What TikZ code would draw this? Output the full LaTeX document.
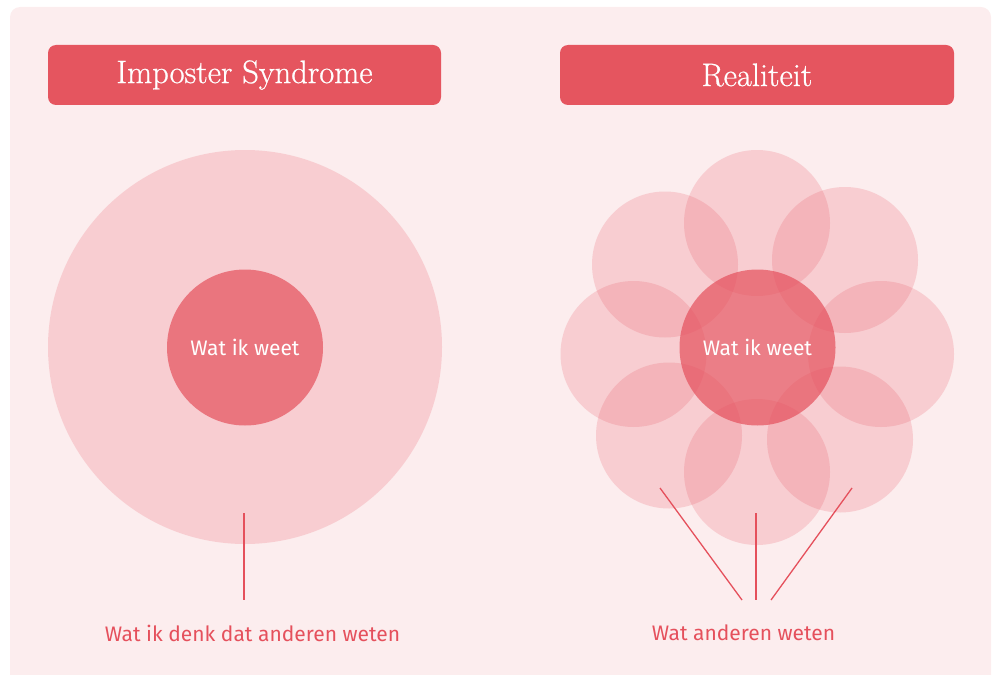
\documentclass[tikz,border=0pt]{standalone}
\usepackage{fontspec}
\setmainfont{Fira Sans}
\newfontfamily\titlefont[FakeBold=0.7]{Latin Modern Roman}
\definecolor{bgpink}{HTML}{FCEDEE}
\definecolor{barred}{HTML}{E5555F}
\definecolor{petalred}{HTML}{E8505F}
\definecolor{corered}{HTML}{E5505C}
\definecolor{labelred}{HTML}{E5505C}
\tikzset{
  titlebar/.style={fill=barred, rounded corners=8pt, draw=none},
  titletext/.style={text=white, font=\titlefont\fontsize{32.5}{36}\selectfont},
  petal/.style={circle, fill=petalred, fill opacity=0.2, draw=none, inner sep=0pt, minimum size=146pt},
  bigcircle/.style={circle, fill=petalred, fill opacity=0.2, draw=none, inner sep=0pt, minimum size=394pt},
  core/.style={circle, fill=corered, fill opacity=0.7, text opacity=1, text=white, draw=none, inner sep=0pt, minimum size=156pt, font=\fontsize{21}{24}\selectfont},
  pointer/.style={draw=labelred, line width=1.3pt},
  caption/.style={text=labelred, font=\fontsize{21}{24}\selectfont}
}
\begin{document}
\begin{tikzpicture}[x=1pt,y=-1pt]
\useasboundingbox (0,0) rectangle (992,674);
\begin{scope}
\clip (0,0) rectangle (992,674);
\fill[bgpink, rounded corners=10pt] (10,7) rectangle (991,690);
\end{scope}
% title bars
\fill[titlebar] (48,45) rectangle (441,105);
\fill[titlebar] (560,45) rectangle (954,105);
\node[titletext] (t1) at (244.5,75) {Imposter Syndrome};
\node[titletext] (t2) at (757,75) {Realiteit};
% left diagram
\node[bigcircle] (big) at (245,347) {};
\node[core] (core1) at (245,347.5) {Wat ik weet};
\coordinate (l1a) at (244,513);
\coordinate (l1b) at (244,600);
\draw[pointer] (l1a) -- (l1b);
\node[caption] (cap1) at (252.5,633) {Wat ik denk dat anderen weten};
% right diagram petals
\node[petal] (p1) at (757,223) {};
\node[petal] (p2) at (845,260) {};
\node[petal] (p3) at (881,354) {};
\node[petal] (p4) at (840,439.5) {};
\node[petal] (p5) at (757,472) {};
\node[petal] (p6) at (669,435.5) {};
\node[petal] (p7) at (633.5,354) {};
\node[petal] (p8) at (665,264.5) {};
\node[core] (core2) at (757.5,347.5) {Wat ik weet};
\coordinate (r1a) at (660,488);
\coordinate (r1b) at (742,600);
\coordinate (r2a) at (756,513);
\coordinate (r2b) at (756,600);
\coordinate (r3a) at (852,488);
\coordinate (r3b) at (771,600);
\draw[pointer] (r1a) -- (r1b);
\draw[pointer] (r2a) -- (r2b);
\draw[pointer] (r3a) -- (r3b);
\node[caption] (cap2) at (743.5,633) {Wat anderen weten};
\end{tikzpicture}
\end{document}
